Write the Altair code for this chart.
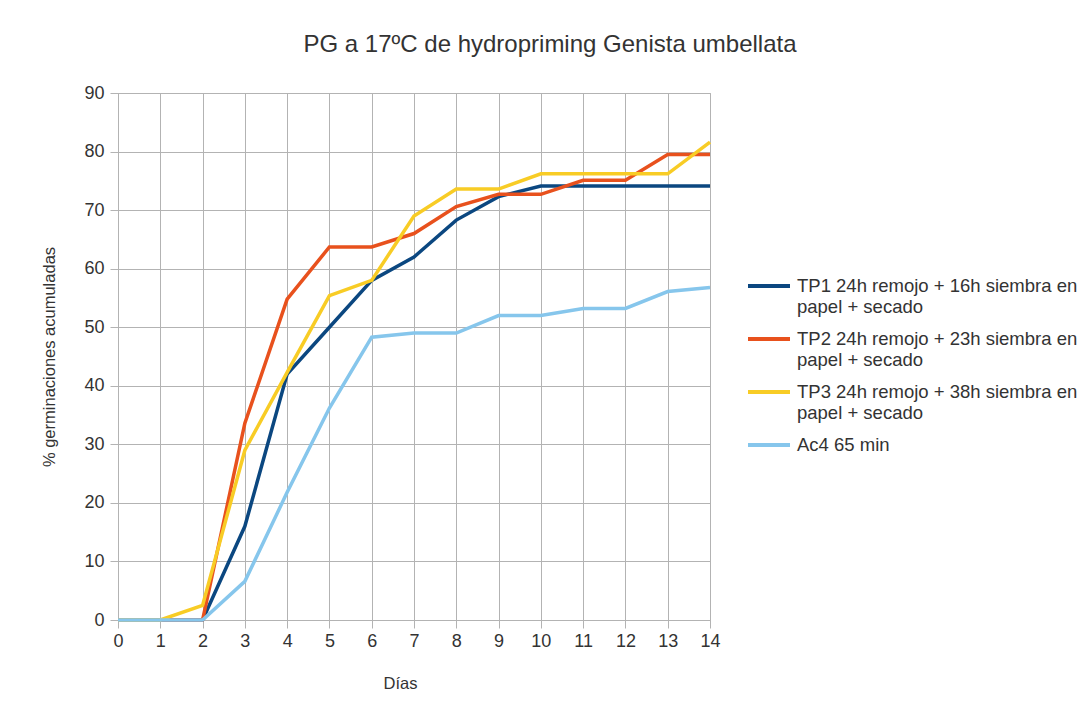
import altair as alt
import pandas as pd

days = list(range(15))
series_names = [
    "TP1 24h remojo + 16h siembra en|papel + secado",
    "TP2 24h remojo + 23h siembra en|papel + secado",
    "TP3 24h remojo + 38h siembra en|papel + secado",
    "Ac4 65 min",
]
tp1 = [0, 0, 0, 16, 42, 50, 58, 62, 68.3, 72.3, 74.1, 74.1, 74.1, 74.1, 74.1]
tp2 = [0, 0, 0, 33.6, 54.8, 63.7, 63.7, 66, 70.6, 72.7, 72.7, 75.1, 75.1, 79.5, 79.5]
tp3 = [0, 0, 2.5, 29, 42.3, 55.4, 58, 69, 73.6, 73.6, 76.2, 76.2, 76.2, 76.2, 81.6]
ac4 = [0, 0, 0, 6.6, 21.8, 36.2, 48.3, 49, 49, 52, 52, 53.2, 53.2, 56.1, 56.8]
colors = ["#0b4780", "#e8511d", "#f8cc25", "#86c6ec"]

rows = []
for name, vals in zip(series_names, [tp1, tp2, tp3, ac4]):
    for d, v in zip(days, vals):
        rows.append({"Días": d, "valor": v, "serie": name})
df = pd.DataFrame(rows)

FONT = "Liberation Sans"

chart = (
    alt.Chart(df)
    .mark_line(strokeWidth=3.5)
    .encode(
        x=alt.X(
            "Días:Q",
            scale=alt.Scale(domain=[0, 14], nice=False),
            axis=alt.Axis(values=days, title="Días", format="d", labelFlush=False, titleX=282),
        ),
        y=alt.Y(
            "valor:Q",
            scale=alt.Scale(domain=[0, 90], nice=False),
            axis=alt.Axis(values=list(range(0, 91, 10)), title="% germinaciones acumuladas"),
        ),
        color=alt.Color(
            "serie:N",
            scale=alt.Scale(domain=series_names, range=colors),
            sort=series_names,
            legend=alt.Legend(
                title=None,
                orient="none",
                legendX=628,
                legendY=170,
                labelExpr="split(datum.label + (indexof(datum.label, '|') < 0 ? '|' : ''), '|')",
                labelFont=FONT,
                labelFontSize=18.5,
                labelColor="#333333",
                labelLimit=400,
                labelBaseline="middle",
                symbolType="stroke",
                symbolSize=1764,
                symbolStrokeWidth=4,
                rowPadding=0,
                labelOffset=5,
            ),
        ),
    )
    .properties(
        width=592,
        height=527,
        title=alt.TitleParams(
            "PG a 17ºC de hydropriming Genista umbellata",
            font=FONT,
            fontSize=24,
            fontWeight="normal",
            color="#333333",
            anchor="middle",
            dx=136,
            offset=27,
        ),
        autosize=alt.AutoSizeParams(type="none"),
        padding={"left": 110, "top": 85, "right": 369, "bottom": 92},
    )
    .configure_axis(
        labelFont=FONT,
        labelFontSize=18,
        labelColor="#333333",
        titleFont=FONT,
        titleFontSize=16.5,
        titleFontWeight="normal",
        titleColor="#333333",
        gridColor="#b3b3b3",
        gridOpacity=1,
        domainColor="#b3b3b3",
        tickColor="#b3b3b3",
        tickSize=8,
    )
    .configure_axisY(titlePadding=26, labelPadding=6)
    .configure_axisX(titlePadding=25, labelPadding=4)
    .configure_view(stroke="#b3b3b3")
)

chart.save("out.html", embed_options={"renderer": "svg", "actions": False})
